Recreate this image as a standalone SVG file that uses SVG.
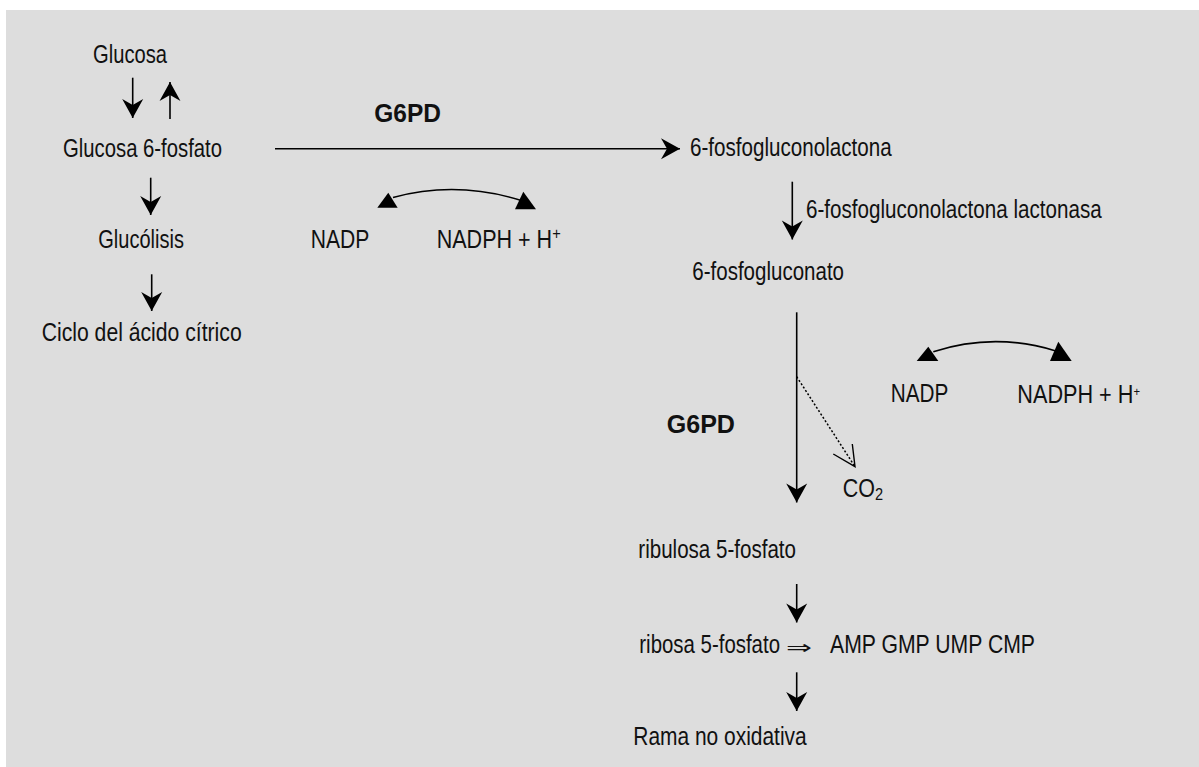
<svg xmlns="http://www.w3.org/2000/svg" width="1199" height="767" viewBox="0 0 1199 767">
<style>
text{font-family:"Liberation Sans",Arial,sans-serif;font-size:25px;fill:#111}
.b{font-weight:bold;font-size:26px}
.ln{stroke:#000;stroke-width:1.6;fill:none}
.hd{fill:#000;stroke:none}
</style>
<defs>
<marker id="ah" markerUnits="userSpaceOnUse" markerWidth="24" markerHeight="24" viewBox="-20 -12 22 24" refX="0" refY="0" orient="auto">
<path d="M0,0 L-19,-10.5 L-13,0 L-19,10.5 Z" fill="#000"/>
</marker>
</defs>
<rect x="6" y="10" width="1193" height="757" fill="#dddddd"/>
<g id="connectors">
<line class="ln" x1="132.7" y1="77.7" x2="132.7" y2="118" marker-end="url(#ah)"/>
<line class="ln" x1="170" y1="119" x2="170" y2="82" marker-end="url(#ah)"/>
<line class="ln" x1="150.7" y1="177.7" x2="150.7" y2="215" marker-end="url(#ah)"/>
<line class="ln" x1="151.7" y1="274.3" x2="151.7" y2="311" marker-end="url(#ah)"/>
<line class="ln" x1="275" y1="148.7" x2="680" y2="148.7" marker-end="url(#ah)"/>
<line class="ln" x1="792.3" y1="181.7" x2="792.3" y2="239.5" marker-end="url(#ah)"/>
<line class="ln" x1="796.7" y1="312.3" x2="796.7" y2="502.5" marker-end="url(#ah)"/>
<line class="ln" x1="796.7" y1="584" x2="796.7" y2="622.5" marker-end="url(#ah)"/>
<line class="ln" x1="796.7" y1="672.3" x2="796.7" y2="711" marker-end="url(#ah)"/>
<line x1="796.7" y1="376.7" x2="855" y2="466.7" stroke="#000" stroke-width="1.5" stroke-dasharray="2,2"/>
<polyline points="833.3,454 855,466.7 852.3,444" fill="none" stroke="#000" stroke-width="1.4"/>
<path class="ln" d="M393,197.5 Q457,180 523,201"/>
<polygon class="hd" points="377.3,207.7 388.3,192.7 397.7,207.7"/>
<polygon class="hd" points="536,209.3 515,209.3 523.3,191.7"/>
<path class="ln" d="M933.3,351.7 Q994,332 1055,350.7"/>
<polygon class="hd" points="916.7,361 928.3,346.7 938.3,361"/>
<polygon class="hd" points="1071.7,361 1050,361 1058.3,341.7"/>
</g>
<g id="glucosa"><text x="93" y="62.7" textLength="74" lengthAdjust="spacingAndGlyphs">Glucosa</text></g>
<g id="g6p"><text x="63" y="156.7" textLength="159" lengthAdjust="spacingAndGlyphs">Glucosa 6-fosfato</text></g>
<g id="glucolisis"><text x="98.3" y="248.3" textLength="85.7" lengthAdjust="spacingAndGlyphs">Glucólisis</text></g>
<g id="ciclo"><text x="41.7" y="341" textLength="200" lengthAdjust="spacingAndGlyphs">Ciclo del ácido cítrico</text></g>
<g id="g6pd1"><text class="b" x="374.3" y="122.3" textLength="66.7" lengthAdjust="spacingAndGlyphs">G6PD</text></g>
<g id="nadp1"><text x="310.7" y="248.3" textLength="58.6" lengthAdjust="spacingAndGlyphs">NADP</text></g>
<g id="nadph1"><text x="436.7" y="248.3" textLength="124" lengthAdjust="spacingAndGlyphs">NADPH + H<tspan dy="-9" style="font-size:17px">+</tspan></text></g>
<g id="lactona"><text x="690" y="155.7" textLength="201.7" lengthAdjust="spacingAndGlyphs">6-fosfogluconolactona</text></g>
<g id="lactonasa"><text x="806" y="218.3" textLength="295.7" lengthAdjust="spacingAndGlyphs">6-fosfogluconolactona lactonasa</text></g>
<g id="gluconato"><text x="692.3" y="280" textLength="151.7" lengthAdjust="spacingAndGlyphs">6-fosfogluconato</text></g>
<g id="g6pd2"><text class="b" x="666.7" y="432.7" textLength="68.3" lengthAdjust="spacingAndGlyphs">G6PD</text></g>
<g id="nadp2"><text x="890.7" y="401.7" textLength="57.6" lengthAdjust="spacingAndGlyphs">NADP</text></g>
<g id="nadph2"><text x="1017.3" y="402.7" textLength="122.7" lengthAdjust="spacingAndGlyphs">NADPH + H<tspan dy="-7" style="font-size:13px">+</tspan></text></g>
<g id="co2"><text x="842.7" y="496.7" textLength="40.3" lengthAdjust="spacingAndGlyphs">CO<tspan dy="3" style="font-size:17px">2</tspan></text></g>
<g id="ribulosa"><text x="638.3" y="558.3" textLength="157.7" lengthAdjust="spacingAndGlyphs">ribulosa 5-fosfato</text></g>
<g id="ribosa"><text y="652.7"><tspan x="639.3" textLength="140.7" lengthAdjust="spacingAndGlyphs">ribosa 5-fosfato</tspan><tspan x="786" dy="1" style="font-family:'DejaVu Sans',sans-serif;font-size:19px" textLength="26" lengthAdjust="spacingAndGlyphs">⇒</tspan><tspan x="830" dy="-1" textLength="205" lengthAdjust="spacingAndGlyphs">AMP GMP UMP CMP</tspan></text></g>
<g id="rama"><text x="633.3" y="745" textLength="173.4" lengthAdjust="spacingAndGlyphs">Rama no oxidativa</text></g>
</svg>
